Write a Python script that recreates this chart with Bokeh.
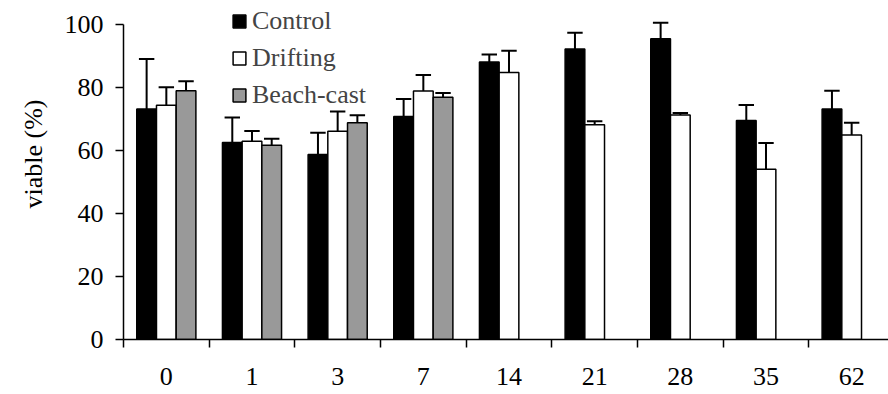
from bokeh.plotting import figure
from bokeh.models import Range1d, FixedTicker, Legend, LegendItem, Title
from bokeh.embed import file_html
from bokeh.resources import INLINE

# sampling day after the start of the experiment
days = ["0", "1", "3", "7", "14", "21", "28", "35", "62"]

# viability (%) and upper error (SE) per treatment
control = [73.3, 62.6, 58.8, 70.9, 88.2, 92.4, 95.6, 69.6, 73.3]
control_se = [15.9, 8.0, 6.9, 5.6, 2.4, 5.1, 5.1, 5.0, 5.8]
drifting = [74.5, 63.0, 66.2, 79.0, 84.9, 68.3, 71.4, 54.1, 65.0]
drifting_se = [5.7, 3.3, 6.3, 5.1, 6.9, 1.1, 0.6, 8.4, 3.9]
beach_cast = [79.1, 61.8, 68.9, 77.0]
beach_cast_se = [3.0, 2.0, 2.4, 1.4]

FONT = "Liberation Serif"
FS = "26px"
BAR_W = 0.23
CAP = 0.09

p = figure(width=888, height=394, output_backend="svg", toolbar_location=None,
           x_range=Range1d(-0.5, 8.43), y_range=Range1d(0, 106.2),
           min_border_left=123, min_border_right=0,
           min_border_top=5, min_border_bottom=55)
p.outline_line_color = None
p.grid.visible = False

series = [
    ("Control", control, control_se, "black", -BAR_W),
    ("Drifting", drifting, drifting_se, "white", 0.0),
    ("Beach-cast", beach_cast, beach_cast_se, "#999999", BAR_W),
]

items = []
for name, vals, se, color, off in series:
    xs = [i + off for i in range(len(vals))]
    tops = [v + e for v, e in zip(vals, se)]
    r = p.vbar(x=xs, top=vals, width=BAR_W, fill_color=color,
               line_color="black", line_width=1.5)
    p.segment(x0=xs, y0=vals, x1=xs, y1=tops, line_color="black", line_width=2)
    p.segment(x0=[x - CAP for x in xs], y0=tops, x1=[x + CAP for x in xs], y1=tops,
              line_color="black", line_width=2)
    items.append(LegendItem(label=name, renderers=[r]))

# x axis: day labels centred on each group, tick marks between groups
xa = p.xaxis[0]
xa.ticker = FixedTicker(ticks=list(range(len(days))),
                        minor_ticks=[i - 0.5 for i in range(len(days))])
xa.major_label_overrides = {i: d for i, d in enumerate(days)}
xa.major_tick_line_color = None
xa.major_tick_out = 0
xa.major_tick_in = 0
xa.minor_tick_out = 8
xa.minor_tick_in = 0
xa.minor_tick_line_width = 1.5
xa.minor_tick_line_color = "black"
xa.axis_line_width = 1.5
xa.major_label_standoff = 20
xa.major_label_text_font = FONT
xa.major_label_text_font_size = FS
xa.major_label_text_color = "black"

ya = p.yaxis[0]
ya.bounds = (0, 100)
ya.ticker = FixedTicker(ticks=[0, 20, 40, 60, 80, 100], minor_ticks=[])
ya.major_tick_out = 8
ya.major_tick_in = 0
ya.major_tick_line_width = 1.5
ya.axis_line_width = 1.5
ya.major_label_standoff = 12
ya.major_label_text_font = FONT
ya.major_label_text_font_size = FS
ya.major_label_text_color = "black"

# y title, starting a fixed distance above the bottom of the frame
p.add_layout(Title(text="viable (%)", align="left", offset=131, standoff=27,
                   text_font=FONT, text_font_size=FS,
                   text_font_style="normal", text_color="black"), "left")

legend = Legend(items=items, location=(108, 229), padding=0, margin=0,
                spacing=7, glyph_width=16, glyph_height=16, label_standoff=5,
                label_height=26, label_text_font=FONT, label_text_font_size=FS,
                border_line_color=None, background_fill_alpha=0)
p.add_layout(legend)

open("out.html", "w").write(file_html(p, INLINE))
